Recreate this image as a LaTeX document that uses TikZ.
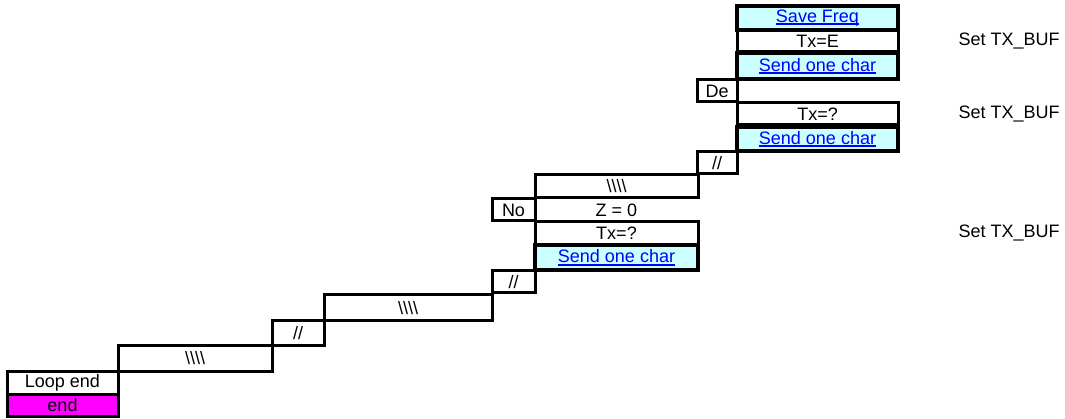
\documentclass[tikz,border=0pt]{standalone}
\usepackage{fontspec}
\setmainfont{Liberation Sans}
\definecolor{linkblue}{RGB}{0,0,255}
\definecolor{subfill}{RGB}{204,255,255}
\definecolor{endfill}{RGB}{255,0,255}
\newcommand{\linktext}[1]{\textcolor{linkblue}{\setbox0\hbox{#1}\rlap{\rule[-3pt]{\wd0}{2pt}}\box0}}
\tikzset{
  box/.style={draw, line width=3pt, inner sep=0pt, fill=white},
  subbox/.style={draw, line width=4.5pt, inner sep=0pt, fill=subfill},
  wide/.style={minimum width=161pt},
  narrow/.style={minimum width=40pt}
}
\begin{document}
\begin{tikzpicture}[x=1pt,y=-1pt,font=\fontsize{18}{20}\selectfont]
    \useasboundingbox (0,0) rectangle (1065,419);
    % top column
    \node [box, wide, minimum height=22pt] (TxE) at (817.5,41) {Tx=E};
    \node [box, narrow, minimum height=22pt] (De) at (717,91) {De};
    \node [box, wide, minimum height=22pt] (TxQA) at (817.5,114) {Tx=?};
    \node [box, narrow, minimum height=22pt] (SlashA) at (717,163) {//};
    \node [subbox, wide, minimum height=24pt] (SaveFreq) at (817.5,18) {\linktext{Save Freq}};
    \node [subbox, wide, minimum height=26pt] (SendA) at (817.5,66) {\linktext{Send one char}};
    \node [subbox, wide, minimum height=24pt] (SendB) at (817.5,139) {\linktext{Send one char}};
    % middle column
    \node [box, minimum width=163pt, minimum height=23pt] (BackA) at (616.5,186.5) {\textbackslash\textbackslash\textbackslash\textbackslash};
    \node [box, minimum width=43pt, minimum height=22pt] (No) at (513.5,210) {No};
    \node (Zero) at (616.5,210) {Z = 0};
    \node [box, minimum width=163pt, minimum height=23pt] (TxQB) at (616.5,233.5) {Tx=?};
    \node [box, minimum width=43pt, minimum height=22pt] (SlashB) at (513.5,282) {//};
    \node [subbox, minimum width=163pt, minimum height=25pt] (SendC) at (616.5,257.5) {\linktext{Send one char}};
    % stairs down
    \node [box, minimum width=168pt, minimum height=26pt] (BackB) at (408,308) {\textbackslash\textbackslash\textbackslash\textbackslash};
    \node [box, minimum width=52pt, minimum height=25pt] (SlashC) at (298,333.5) {//};
    \node [box, minimum width=154pt, minimum height=25pt] (BackC) at (195,358.5) {\textbackslash\textbackslash\textbackslash\textbackslash};
    \node [box, minimum width=111pt, minimum height=23pt] (LoopEnd) at (62.5,382.5) {Loop end};
    \node [box, fill=endfill, minimum width=111pt, minimum height=22pt] (End) at (62.5,405) {end};
    % notes
    \node [anchor=west] (NoteA) at (955,41) {Set TX\_BUF};
    \node [anchor=west] (NoteB) at (955,114) {Set TX\_BUF};
    \node [anchor=west] (NoteC) at (955,233.5) {Set TX\_BUF};
\end{tikzpicture}
\end{document}
